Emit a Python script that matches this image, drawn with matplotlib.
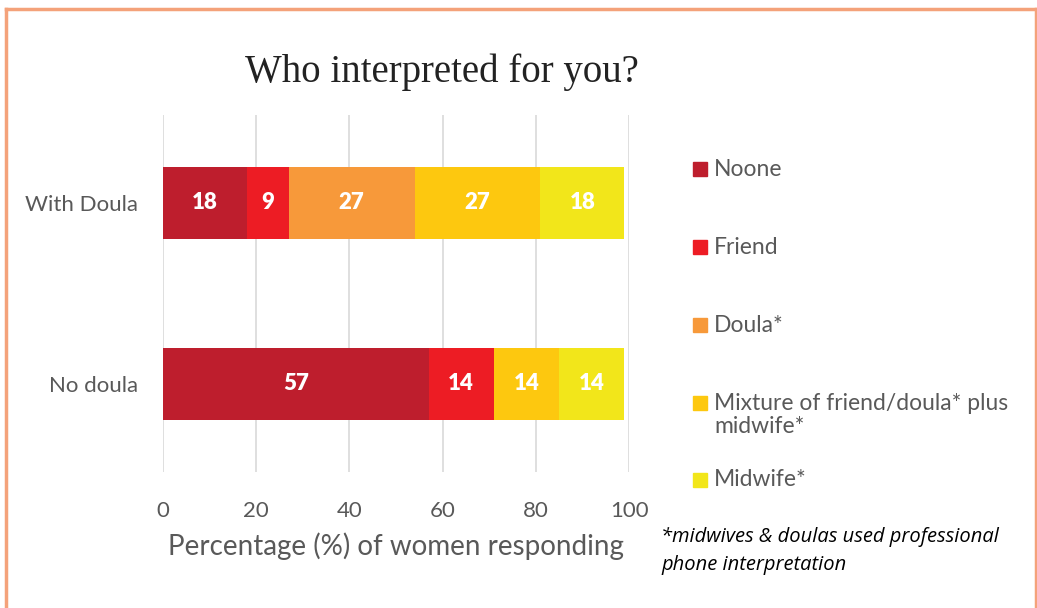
import numpy as np
import matplotlib
matplotlib.use("Agg")
from matplotlib import pyplot as plt
from matplotlib.patches import Rectangle
from matplotlib.lines import Line2D

# groups, bottom to top
groups = ["No doula", "With Doula"]

# interpreter type -> percentage per group (No doula, With Doula)
series = ["Noone", "Friend", "Doula*", "Mixture of friend/doula* plus\nmidwife*", "Midwife*"]
noone = [57, 18]
friend = [14, 9]
doula = [0, 27]
mixture = [14, 27]
midwife = [14, 18]
values = [noone, friend, doula, mixture, midwife]

colors = ["#BE1E2D", "#ED1C24", "#F7993A", "#FDC80F", "#F2E61A"]
xticks = [0, 20, 40, 60, 80, 100]

plt.rcParams['font.family'] = ['Lato', 'DejaVu Sans']
grey = "#595959"

fig = plt.figure(figsize=(10.37, 6.08), dpi=100)
ax = fig.add_axes([0.157, 0.2237, 0.4496, 0.5873])

y = np.arange(len(groups))
left = np.zeros(len(groups))
for vals, col in zip(values, colors):
    vals = np.array(vals, dtype=float)
    ax.barh(y, vals, left=left, height=0.4, color=col, zorder=2)
    for yi, v, l in zip(y, vals, left):
        if v > 0:
            ax.text(l + v / 2, yi, "%d" % v, ha="center", va="center",
                    color="white", fontsize=16, fontweight="heavy", zorder=3)
    left += vals

ax.set_xlim(0, 100)
ax.set_ylim(-0.486, 1.486)
ax.set_xticks(xticks)
ax.set_yticks(y)
ax.set_yticklabels(groups)
ax.grid(axis="x", color="#D9D9D9", linewidth=1.2, zorder=0)
ax.tick_params(axis="both", length=0, labelsize=16, colors=grey)
ax.tick_params(axis="x", pad=21)
ax.tick_params(axis="y", pad=18)
for s in ax.spines.values():
    s.set_visible(False)
ax.set_xlabel("Percentage (%) of women responding", fontsize=20, color=grey, labelpad=8)

fig.text(0.426, 0.882, "Who interpreted for you?", ha="center", va="center",
         fontsize=28, color="#222222", family=["Liberation Serif", "DejaVu Serif"])

# legend drawn by hand so the wrapped entry sits like the others
leg_y = [169, 247, 325, 403, 480]
for name, col, py in zip(series, colors, leg_y):
    fy = 1 - py / 608
    fig.patches.append(Rectangle((693 / 1037, fy - 7 / 608), 14 / 1037, 14 / 608,
                                 transform=fig.transFigure, color=col))
    if "\n" in name:
        # first line centred on the square, second line below
        fig.text(714 / 1037, 1 - (py - 10) / 608, name, ha="left", va="top",
                 fontsize=16.5, color=grey, linespacing=1.1)
    else:
        fig.text(714 / 1037, fy, name, ha="left", va="center",
                 fontsize=16.5, color=grey)

fig.text(661 / 1037, 1 - 551 / 608, "*midwives & doulas used professional\nphone interpretation",
         ha="left", va="center", fontsize=14.5, style="italic", color="black",
         linespacing=1.5, family=["Liberation Sans Narrow", "Open Sans", "Lato"])

# orange frame on left, top and right
frame = "#F4A27A"
fig.lines.append(Line2D([5.5 / 1037] * 2, [0, 1 - 9 / 608], transform=fig.transFigure, color=frame, lw=2.5))
fig.lines.append(Line2D([5.5 / 1037, 1035.5 / 1037], [1 - 9 / 608] * 2, transform=fig.transFigure, color=frame, lw=2.5))
fig.lines.append(Line2D([1035.5 / 1037] * 2, [0, 1 - 9 / 608], transform=fig.transFigure, color=frame, lw=2.5))

fig.savefig("out.png", dpi=100)
